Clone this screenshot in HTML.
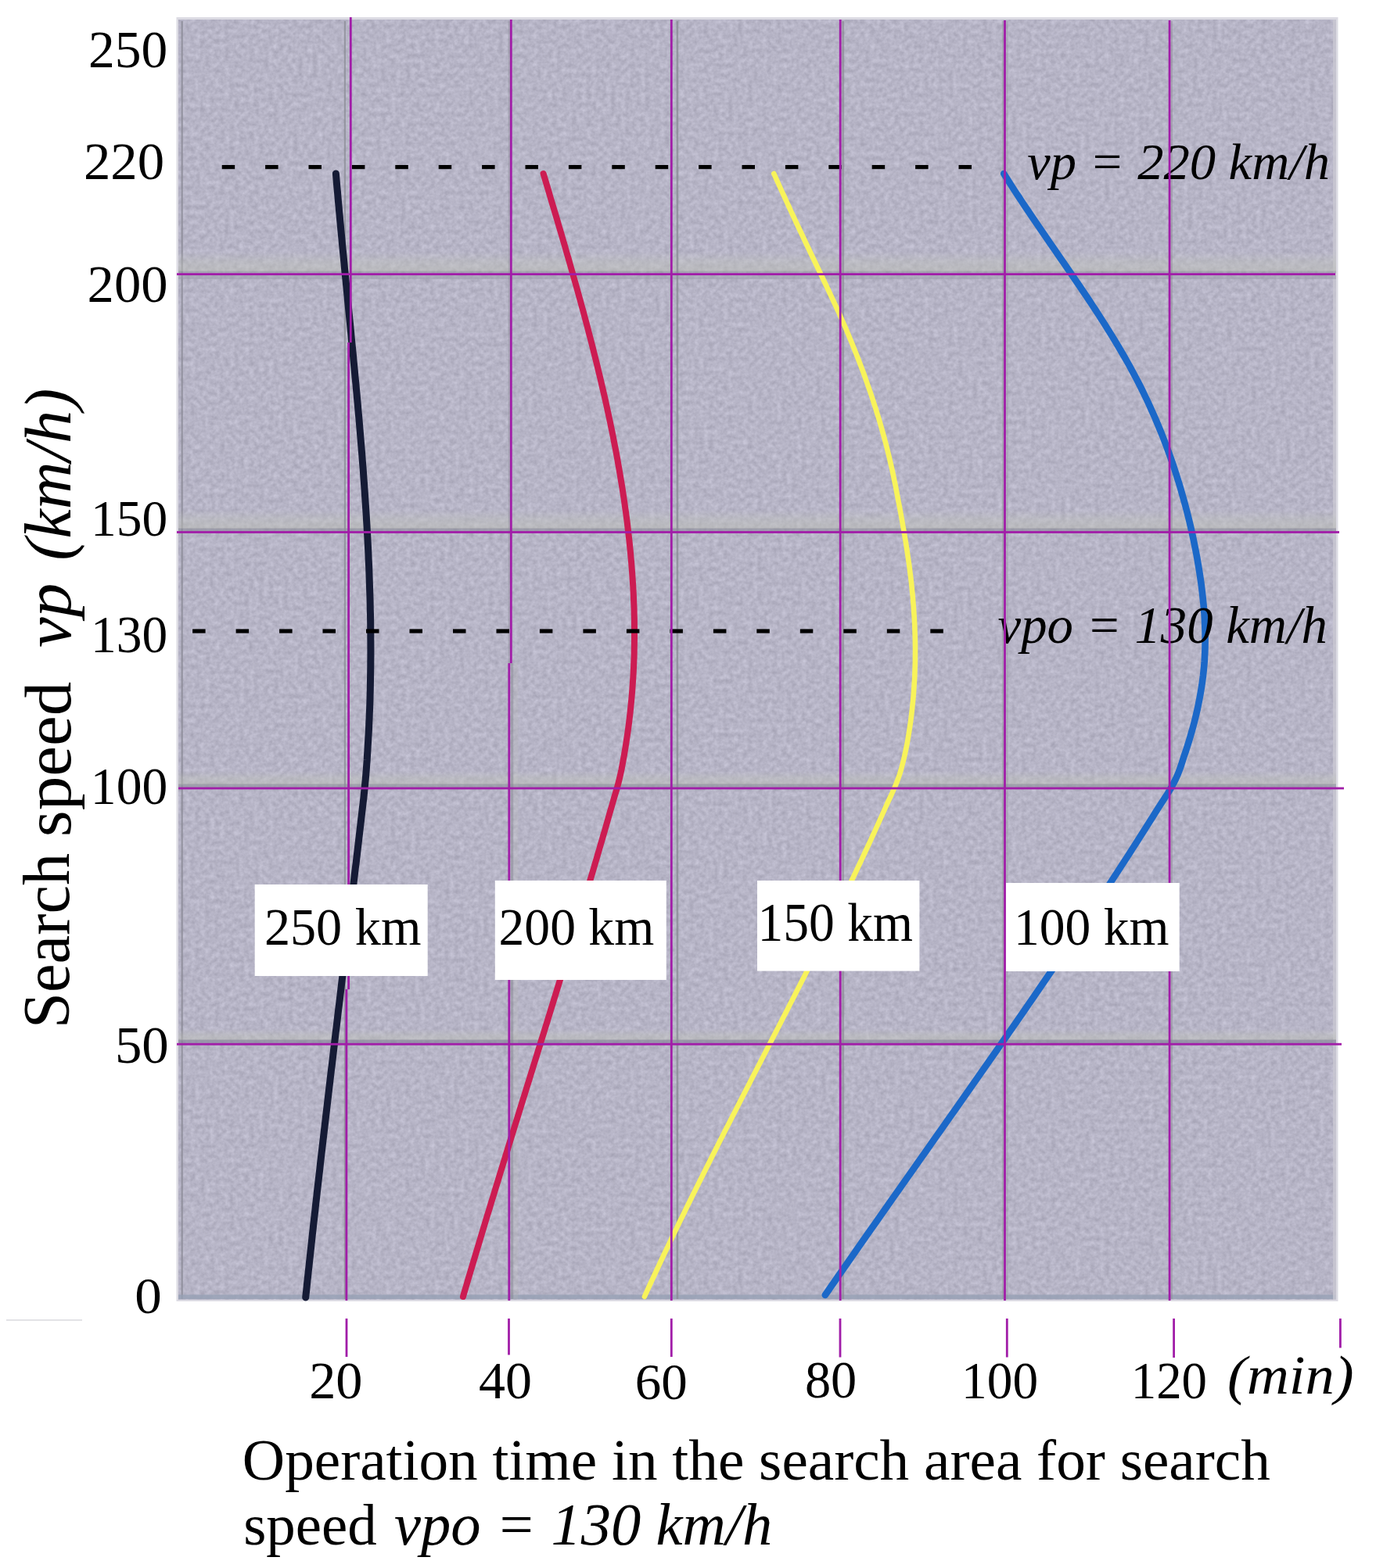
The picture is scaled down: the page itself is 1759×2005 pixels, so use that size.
<!DOCTYPE html>
<html><head><meta charset="utf-8"><title>Search speed chart</title>
<style>html,body{margin:0;padding:0;background:#fff;}svg{display:block;}</style>
</head><body>
<svg width="1759" height="2005" viewBox="0 0 1759 2005">
<defs>
<filter id="noise" x="0" y="0" width="100%" height="100%" color-interpolation-filters="sRGB">
<feTurbulence type="fractalNoise" baseFrequency="0.16" numOctaves="3" seed="11" result="t"/>
<feColorMatrix in="t" type="matrix" values="0.170 0 0 0 0.6310  0.170 0 0 0 0.6230  0.170 0 0 0 0.6930  0 0 0 0 1"/>
</filter>
</defs>
<rect width="1759" height="2005" fill="#fff"/>
<rect x="225.5" y="22" width="1485" height="1642" fill="#dcdbe3"/>
<rect x="228" y="25" width="1480" height="1637" fill="#b3b1c5"/>
<rect x="228" y="25" width="1480" height="1637" filter="url(#noise)"/>
<rect x="231.5" y="27" width="2.4" height="1634" fill="#8d8c98" opacity="0.8"/>
<rect x="228" y="1655.5" width="1480" height="5.5" fill="#96a0b4" opacity="0.8"/>
<rect x="1704" y="25" width="4" height="1637" fill="#c9c8d2" opacity="0.8"/>
<linearGradient id="lb" x1="0" y1="0" x2="0" y2="1"><stop offset="0" stop-color="#c2c4bd" stop-opacity="0"/><stop offset="0.5" stop-color="#c0c3bb" stop-opacity="0.38"/><stop offset="1" stop-color="#bcbeb6" stop-opacity="0.55"/></linearGradient>
<rect x="228" y="322" width="1480" height="25" fill="url(#lb)"/>
<rect x="228" y="652" width="1480" height="24" fill="url(#lb)"/>
<rect x="228" y="986" width="1480" height="18" fill="url(#lb)"/>
<rect x="228" y="1316" width="1480" height="15" fill="url(#lb)"/>
<rect x="228" y="346.5" width="1480" height="3" fill="#8e8e9a" opacity="0.45"/>
<rect x="228" y="352" width="1480" height="5" fill="#9c9aac" opacity="0.5"/>
<rect x="228" y="675.5" width="1480" height="4" fill="#8a8a98" opacity="0.6"/>
<rect x="228" y="1002.5" width="1480" height="4.5" fill="#8d8f9c" opacity="0.6"/>
<rect x="228" y="1329.5" width="1480" height="4.5" fill="#85849a" opacity="0.65"/>
<g fill="#8b8c96">
<rect x="439.8" y="27" width="2.2" height="1634" opacity="0.75"/>
<rect x="652.8" y="848" width="3.4" height="813" opacity="0.55"/>
<rect x="656.4" y="848" width="6" height="813" fill="#bfc1bc" opacity="0.22"/>
<rect x="649.8" y="27" width="2" height="821" opacity="0.45"/>
<rect x="864.6" y="27" width="2.6" height="1634" opacity="0.8"/>
<rect x="1076.3" y="27" width="2.8" height="1634" opacity="0.7"/>
<rect x="1281" y="27" width="2" height="1634" opacity="0.45"/>
<rect x="1286.6" y="27" width="2" height="1634" opacity="0.35"/>
<rect x="1496.8" y="27" width="2.2" height="1634" opacity="0.5"/>
</g>
<g fill="none" stroke-linecap="round" stroke-linejoin="round">
<path d="M429.4,222.0 L429.9,228.0 L430.4,234.0 L430.9,240.0 L431.5,246.0 L432.0,252.0 L432.5,258.0 L433.1,264.0 L433.6,270.0 L434.2,276.0 L434.7,282.0 L435.3,288.0 L435.8,294.0 L436.4,300.0 L437.0,306.0 L437.5,312.0 L438.1,318.0 L438.7,324.0 L439.3,330.0 L439.9,336.0 L440.4,342.0 L441.0,348.0 L441.6,354.0 L442.2,360.0 L442.8,366.0 L443.4,372.0 L444.0,378.0 L444.5,384.0 L445.1,390.0 L445.7,396.0 L446.3,402.0 L446.9,408.0 L447.5,414.0 L448.1,420.0 L448.7,426.0 L449.2,432.0 L449.8,438.0 L450.4,444.0 L451.0,450.0 L451.6,456.0 L452.1,462.0 L452.7,468.0 L453.3,474.0 L453.8,480.0 L454.4,486.0 L455.0,492.0 L455.5,498.0 L456.1,504.0 L456.6,510.0 L457.2,516.0 L457.7,522.0 L458.2,528.0 L458.8,534.0 L459.3,540.0 L459.8,546.0 L460.3,552.0 L460.8,558.0 L461.3,564.0 L461.8,570.0 L462.3,576.0 L462.8,582.0 L463.2,588.0 L463.7,594.0 L464.2,600.0 L464.6,606.0 L465.0,612.0 L465.5,618.0 L465.9,624.0 L466.3,630.0 L466.7,636.0 L467.1,642.0 L467.5,648.0 L467.9,654.0 L468.3,660.0 L468.6,666.0 L469.0,672.0 L469.3,678.0 L469.7,684.0 L470.0,690.0 L470.3,696.0 L470.6,702.0 L470.9,708.0 L471.1,714.0 L471.4,720.0 L471.7,726.0 L471.9,732.0 L472.1,738.0 L472.3,744.0 L472.5,750.0 L472.7,756.0 L472.9,762.0 L473.1,768.0 L473.2,774.0 L473.3,780.0 L473.5,786.0 L473.6,792.0 L473.7,798.0 L473.7,804.0 L473.8,810.0 L473.8,816.0 L473.9,822.0 L473.9,828.0 L473.9,834.0 L473.9,840.0 L473.8,846.0 L473.8,852.0 L473.7,858.0 L473.6,864.0 L473.5,870.0 L473.4,876.0 L473.3,882.0 L473.1,888.0 L473.0,894.0 L472.8,900.0 L472.6,906.0 L472.3,912.0 L472.1,918.0 L471.8,924.0 L471.6,930.0 L471.3,936.0 L470.9,942.0 L470.6,948.0 L470.2,954.0 L469.9,960.0 L469.5,966.0 L469.2,972.0 L468.7,978.0 L468.3,984.0 L467.8,990.0 L467.3,996.0 L466.7,1002.0 L466.1,1008.0 L465.5,1014.0 L464.9,1020.0 L464.2,1026.0 L463.5,1032.0 L462.8,1038.0 L462.1,1044.0 L461.4,1050.0 L460.7,1056.0 L460.0,1062.0 L459.3,1068.0 L458.6,1074.0 L457.9,1080.0 L457.2,1086.0 L456.5,1092.0 L455.8,1098.0 L455.1,1104.0 L454.3,1110.0 L453.6,1116.0 L452.9,1122.0 L452.2,1128.0 L451.5,1134.0 L450.8,1140.0 L450.1,1146.0 L449.4,1152.0 L448.6,1158.0 L447.9,1164.0 L447.2,1170.0 L446.5,1176.0 L445.8,1182.0 L445.1,1188.0 L444.3,1194.0 L443.6,1200.0 L442.9,1206.0 L442.2,1212.0 L441.5,1218.0 L440.7,1224.0 L440.0,1230.0 L439.3,1236.0 L438.6,1242.0 L437.9,1248.0 L437.1,1254.0 L436.4,1260.0 L435.7,1266.0 L435.0,1272.0 L434.3,1278.0 L433.6,1284.0 L432.8,1290.0 L432.1,1296.0 L431.4,1302.0 L430.7,1308.0 L430.0,1314.0 L429.2,1320.0 L428.5,1326.0 L427.8,1332.0 L427.1,1338.0 L426.4,1344.0 L425.7,1350.0 L425.0,1356.0 L424.3,1362.0 L423.5,1368.0 L422.8,1374.0 L422.1,1380.0 L421.4,1386.0 L420.7,1392.0 L420.0,1398.0 L419.3,1404.0 L418.6,1410.0 L417.9,1416.0 L417.2,1422.0 L416.5,1428.0 L415.8,1434.0 L415.1,1440.0 L414.4,1446.0 L413.7,1452.0 L413.0,1458.0 L412.3,1464.0 L411.6,1470.0 L410.9,1476.0 L410.2,1482.0 L409.5,1488.0 L408.9,1494.0 L408.2,1500.0 L407.5,1506.0 L406.8,1512.0 L406.1,1518.0 L405.4,1524.0 L404.8,1530.0 L404.1,1536.0 L403.4,1542.0 L402.8,1548.0 L402.1,1554.0 L401.4,1560.0 L400.7,1566.0 L400.1,1572.0 L399.4,1578.0 L398.8,1584.0 L398.1,1590.0 L397.5,1596.0 L396.8,1602.0 L396.2,1608.0 L395.5,1614.0 L394.9,1620.0 L394.2,1626.0 L393.6,1632.0 L392.9,1638.0 L392.3,1644.0 L391.7,1650.0 L391.0,1656.0 L390.7,1659.0" stroke="#151b35" stroke-width="9"/>
<path d="M694.6,222.0 L696.4,228.0 L698.2,234.0 L700.0,240.0 L701.8,246.0 L703.5,252.0 L705.3,258.0 L707.1,264.0 L708.9,270.0 L710.7,276.0 L712.5,282.0 L714.2,288.0 L716.0,294.0 L717.8,300.0 L719.5,306.0 L721.3,312.0 L723.0,318.0 L724.7,324.0 L726.5,330.0 L728.2,336.0 L729.9,342.0 L731.6,348.0 L733.3,354.0 L735.0,360.0 L736.7,366.0 L738.4,372.0 L740.0,378.0 L741.7,384.0 L743.3,390.0 L745.0,396.0 L746.6,402.0 L748.2,408.0 L749.8,414.0 L751.4,420.0 L752.9,426.0 L754.5,432.0 L756.1,438.0 L757.6,444.0 L759.1,450.0 L760.6,456.0 L762.1,462.0 L763.6,468.0 L765.0,474.0 L766.5,480.0 L767.9,486.0 L769.3,492.0 L770.7,498.0 L772.1,504.0 L773.5,510.0 L774.8,516.0 L776.1,522.0 L777.4,528.0 L778.7,534.0 L780.0,540.0 L781.2,546.0 L782.5,552.0 L783.7,558.0 L784.8,564.0 L786.0,570.0 L787.2,576.0 L788.3,582.0 L789.4,588.0 L790.4,594.0 L791.5,600.0 L792.5,606.0 L793.5,612.0 L794.5,618.0 L795.5,624.0 L796.4,630.0 L797.3,636.0 L798.2,642.0 L799.0,648.0 L799.9,654.0 L800.7,660.0 L801.5,666.0 L802.2,672.0 L802.9,678.0 L803.6,684.0 L804.3,690.0 L804.9,696.0 L805.5,702.0 L806.1,708.0 L806.6,714.0 L807.2,720.0 L807.6,726.0 L808.1,732.0 L808.5,738.0 L808.9,744.0 L809.3,750.0 L809.6,756.0 L809.9,762.0 L810.1,768.0 L810.4,774.0 L810.6,780.0 L810.7,786.0 L810.9,792.0 L810.9,798.0 L811.0,804.0 L811.0,810.0 L811.0,816.0 L810.9,822.0 L810.8,828.0 L810.7,834.0 L810.6,840.0 L810.3,846.0 L810.1,852.0 L809.8,858.0 L809.5,864.0 L809.1,870.0 L808.7,876.0 L808.3,882.0 L807.8,888.0 L807.3,894.0 L806.7,900.0 L806.1,906.0 L805.5,912.0 L804.8,918.0 L804.1,924.0 L803.3,930.0 L802.5,936.0 L801.6,942.0 L800.7,948.0 L799.8,954.0 L798.8,960.0 L797.8,966.0 L796.7,972.0 L795.6,978.0 L794.5,984.0 L793.2,990.0 L791.8,996.0 L790.3,1002.0 L788.7,1008.0 L786.9,1014.0 L785.1,1020.0 L783.4,1026.0 L781.7,1032.0 L779.9,1038.0 L778.2,1044.0 L776.5,1050.0 L774.8,1056.0 L773.1,1062.0 L771.3,1068.0 L769.6,1074.0 L767.8,1080.0 L766.1,1086.0 L764.3,1092.0 L762.6,1098.0 L760.8,1104.0 L759.1,1110.0 L757.3,1116.0 L755.5,1122.0 L753.7,1128.0 L752.0,1134.0 L750.2,1140.0 L748.4,1146.0 L746.6,1152.0 L744.8,1158.0 L743.0,1164.0 L741.2,1170.0 L739.4,1176.0 L737.6,1182.0 L735.8,1188.0 L733.9,1194.0 L732.1,1200.0 L730.3,1206.0 L728.5,1212.0 L726.6,1218.0 L724.8,1224.0 L723.0,1230.0 L721.1,1236.0 L719.3,1242.0 L717.5,1248.0 L715.6,1254.0 L713.8,1260.0 L711.9,1266.0 L710.1,1272.0 L708.2,1278.0 L706.4,1284.0 L704.5,1290.0 L702.7,1296.0 L700.8,1302.0 L699.0,1308.0 L697.1,1314.0 L695.3,1320.0 L693.4,1326.0 L691.5,1332.0 L689.7,1338.0 L687.8,1344.0 L686.0,1350.0 L684.1,1356.0 L682.2,1362.0 L680.4,1368.0 L678.5,1374.0 L676.7,1380.0 L674.8,1386.0 L672.9,1392.0 L671.1,1398.0 L669.2,1404.0 L667.3,1410.0 L665.5,1416.0 L663.6,1422.0 L661.8,1428.0 L659.9,1434.0 L658.0,1440.0 L656.2,1446.0 L654.3,1452.0 L652.5,1458.0 L650.6,1464.0 L648.8,1470.0 L646.9,1476.0 L645.1,1482.0 L643.2,1488.0 L641.4,1494.0 L639.5,1500.0 L637.7,1506.0 L635.9,1512.0 L634.0,1518.0 L632.2,1524.0 L630.4,1530.0 L628.5,1536.0 L626.7,1542.0 L624.9,1548.0 L623.0,1554.0 L621.2,1560.0 L619.4,1566.0 L617.6,1572.0 L615.8,1578.0 L614.0,1584.0 L612.2,1590.0 L610.4,1596.0 L608.6,1602.0 L606.8,1608.0 L605.0,1614.0 L603.2,1620.0 L601.4,1626.0 L599.6,1632.0 L597.8,1638.0 L596.1,1644.0 L594.3,1650.0 L592.5,1656.0 L592.0,1658.0" stroke="#cc1c52" stroke-width="8"/>
<path d="M989.3,222.0 L992.0,228.0 L994.7,234.0 L997.4,240.0 L1000.1,246.0 L1002.9,252.0 L1005.6,258.0 L1008.4,264.0 L1011.1,270.0 L1013.9,276.0 L1016.7,282.0 L1019.5,288.0 L1022.3,294.0 L1025.2,300.0 L1028.0,306.0 L1030.8,312.0 L1033.7,318.0 L1036.5,324.0 L1039.4,330.0 L1042.3,336.0 L1045.1,342.0 L1048.0,348.0 L1050.9,354.0 L1053.7,360.0 L1056.6,366.0 L1059.4,372.0 L1062.2,378.0 L1065.0,384.0 L1067.8,390.0 L1070.6,396.0 L1073.3,402.0 L1075.9,408.0 L1078.6,414.0 L1081.2,420.0 L1083.7,426.0 L1086.2,432.0 L1088.7,438.0 L1091.1,444.0 L1093.5,450.0 L1095.9,456.0 L1098.2,462.0 L1100.5,468.0 L1102.8,474.0 L1105.0,480.0 L1107.1,486.0 L1109.2,492.0 L1111.3,498.0 L1113.4,504.0 L1115.4,510.0 L1117.3,516.0 L1119.3,522.0 L1121.1,528.0 L1123.0,534.0 L1124.8,540.0 L1126.5,546.0 L1128.2,552.0 L1129.9,558.0 L1131.5,564.0 L1133.1,570.0 L1134.6,576.0 L1136.1,582.0 L1137.5,588.0 L1138.9,594.0 L1140.3,600.0 L1141.6,606.0 L1142.8,612.0 L1144.1,618.0 L1145.3,624.0 L1146.4,630.0 L1147.6,636.0 L1148.7,642.0 L1149.9,648.0 L1151.0,654.0 L1152.1,660.0 L1153.2,666.0 L1154.2,672.0 L1155.3,678.0 L1156.3,684.0 L1157.3,690.0 L1158.3,696.0 L1159.2,702.0 L1160.1,708.0 L1161.0,714.0 L1161.9,720.0 L1162.7,726.0 L1163.4,732.0 L1164.2,738.0 L1164.9,744.0 L1165.5,750.0 L1166.1,756.0 L1166.7,762.0 L1167.2,768.0 L1167.7,774.0 L1168.1,780.0 L1168.5,786.0 L1168.9,792.0 L1169.2,798.0 L1169.4,804.0 L1169.6,810.0 L1169.8,816.0 L1169.9,822.0 L1170.0,828.0 L1170.0,834.0 L1169.9,840.0 L1169.9,846.0 L1169.7,852.0 L1169.5,858.0 L1169.3,864.0 L1169.0,870.0 L1168.6,876.0 L1168.2,882.0 L1167.8,888.0 L1167.3,894.0 L1166.7,900.0 L1166.1,906.0 L1165.4,912.0 L1164.7,918.0 L1163.9,924.0 L1163.0,930.0 L1162.1,936.0 L1161.1,942.0 L1160.1,948.0 L1159.0,954.0 L1157.7,960.0 L1156.4,966.0 L1155.0,972.0 L1153.5,978.0 L1151.9,984.0 L1150.1,990.0 L1148.0,996.0 L1145.7,1002.0 L1143.2,1008.0 L1140.5,1014.0 L1137.7,1020.0 L1134.9,1026.0 L1132.2,1032.0 L1129.5,1038.0 L1126.8,1044.0 L1124.1,1050.0 L1121.4,1056.0 L1118.7,1062.0 L1115.9,1068.0 L1113.2,1074.0 L1110.4,1080.0 L1107.6,1086.0 L1104.8,1092.0 L1102.0,1098.0 L1099.2,1104.0 L1096.3,1110.0 L1093.5,1116.0 L1090.6,1122.0 L1087.7,1128.0 L1084.9,1134.0 L1082.0,1140.0 L1079.1,1146.0 L1076.1,1152.0 L1073.2,1158.0 L1070.3,1164.0 L1067.3,1170.0 L1064.4,1176.0 L1061.4,1182.0 L1058.5,1188.0 L1055.5,1194.0 L1052.5,1200.0 L1049.5,1206.0 L1046.5,1212.0 L1043.5,1218.0 L1040.5,1224.0 L1037.5,1230.0 L1034.4,1236.0 L1031.4,1242.0 L1028.4,1248.0 L1025.3,1254.0 L1022.3,1260.0 L1019.2,1266.0 L1016.2,1272.0 L1013.1,1278.0 L1010.0,1284.0 L1007.0,1290.0 L1003.9,1296.0 L1000.8,1302.0 L997.8,1308.0 L994.7,1314.0 L991.6,1320.0 L988.5,1326.0 L985.4,1332.0 L982.3,1338.0 L979.3,1344.0 L976.2,1350.0 L973.1,1356.0 L970.0,1362.0 L966.9,1368.0 L963.8,1374.0 L960.7,1380.0 L957.7,1386.0 L954.6,1392.0 L951.5,1398.0 L948.4,1404.0 L945.3,1410.0 L942.3,1416.0 L939.2,1422.0 L936.1,1428.0 L933.1,1434.0 L930.0,1440.0 L926.9,1446.0 L923.9,1452.0 L920.8,1458.0 L917.8,1464.0 L914.8,1470.0 L911.7,1476.0 L908.7,1482.0 L905.7,1488.0 L902.7,1494.0 L899.7,1500.0 L896.7,1506.0 L893.7,1512.0 L890.7,1518.0 L887.7,1524.0 L884.7,1530.0 L881.8,1536.0 L878.8,1542.0 L875.9,1548.0 L873.0,1554.0 L870.0,1560.0 L867.1,1566.0 L864.2,1572.0 L861.3,1578.0 L858.4,1584.0 L855.6,1590.0 L852.7,1596.0 L849.8,1602.0 L847.0,1608.0 L844.2,1614.0 L841.4,1620.0 L838.6,1626.0 L835.8,1632.0 L833.0,1638.0 L830.2,1644.0 L827.5,1650.0 L824.8,1656.0 L823.9,1658.0" stroke="#f8f35a" stroke-width="6.6"/>
<path d="M1283.2,222.0 L1287.0,228.0 L1290.8,234.0 L1294.6,240.0 L1298.5,246.0 L1302.5,252.0 L1306.4,258.0 L1310.4,264.0 L1314.5,270.0 L1318.5,276.0 L1322.6,282.0 L1326.7,288.0 L1330.8,294.0 L1334.9,300.0 L1339.0,306.0 L1343.1,312.0 L1347.3,318.0 L1351.4,324.0 L1355.5,330.0 L1359.7,336.0 L1363.8,342.0 L1367.9,348.0 L1372.0,354.0 L1376.1,360.0 L1380.2,366.0 L1384.2,372.0 L1388.3,378.0 L1392.3,384.0 L1396.2,390.0 L1400.2,396.0 L1404.1,402.0 L1407.9,408.0 L1411.8,414.0 L1415.5,420.0 L1419.3,426.0 L1423.0,432.0 L1426.6,438.0 L1430.2,444.0 L1433.7,450.0 L1437.2,456.0 L1440.6,462.0 L1444.0,468.0 L1447.2,474.0 L1450.4,480.0 L1453.6,486.0 L1456.7,492.0 L1459.7,498.0 L1462.6,504.0 L1465.5,510.0 L1468.3,516.0 L1471.0,522.0 L1473.7,528.0 L1476.4,534.0 L1478.9,540.0 L1481.4,546.0 L1483.9,552.0 L1486.3,558.0 L1488.6,564.0 L1490.9,570.0 L1493.1,576.0 L1495.3,582.0 L1497.4,588.0 L1499.5,594.0 L1501.5,600.0 L1503.4,606.0 L1505.3,612.0 L1507.2,618.0 L1509.0,624.0 L1510.7,630.0 L1512.4,636.0 L1514.1,642.0 L1515.7,648.0 L1517.3,654.0 L1518.8,660.0 L1520.3,666.0 L1521.7,672.0 L1523.1,678.0 L1524.4,684.0 L1525.7,690.0 L1526.9,696.0 L1528.1,702.0 L1529.3,708.0 L1530.4,714.0 L1531.4,720.0 L1532.4,726.0 L1533.4,732.0 L1534.3,738.0 L1535.2,744.0 L1536.0,750.0 L1536.7,756.0 L1537.4,762.0 L1538.0,768.0 L1538.6,774.0 L1539.1,780.0 L1539.6,786.0 L1539.9,792.0 L1540.2,798.0 L1540.4,804.0 L1540.6,810.0 L1540.6,816.0 L1540.6,822.0 L1540.5,828.0 L1540.3,834.0 L1540.0,840.0 L1539.7,846.0 L1539.2,852.0 L1538.6,858.0 L1538.0,864.0 L1537.2,870.0 L1536.4,876.0 L1535.4,882.0 L1534.4,888.0 L1533.3,894.0 L1532.1,900.0 L1530.9,906.0 L1529.5,912.0 L1528.1,918.0 L1526.6,924.0 L1525.0,930.0 L1523.3,936.0 L1521.6,942.0 L1519.8,948.0 L1517.9,954.0 L1516.0,960.0 L1513.9,966.0 L1512.0,972.0 L1510.1,978.0 L1508.0,984.0 L1505.7,990.0 L1503.0,996.0 L1500.0,1002.0 L1496.7,1008.0 L1493.1,1014.0 L1489.2,1020.0 L1485.3,1026.0 L1481.4,1032.0 L1477.6,1038.0 L1473.9,1044.0 L1470.1,1050.0 L1466.3,1056.0 L1462.5,1062.0 L1458.7,1068.0 L1454.9,1074.0 L1451.1,1080.0 L1447.2,1086.0 L1443.4,1092.0 L1439.5,1098.0 L1435.6,1104.0 L1431.7,1110.0 L1427.8,1116.0 L1423.9,1122.0 L1420.0,1128.0 L1416.1,1134.0 L1412.1,1140.0 L1408.2,1146.0 L1404.2,1152.0 L1400.3,1158.0 L1396.3,1164.0 L1392.3,1170.0 L1388.3,1176.0 L1384.3,1182.0 L1380.3,1188.0 L1376.3,1194.0 L1372.2,1200.0 L1368.2,1206.0 L1364.1,1212.0 L1360.1,1218.0 L1356.0,1224.0 L1352.0,1230.0 L1347.9,1236.0 L1343.8,1242.0 L1339.7,1248.0 L1335.6,1254.0 L1331.5,1260.0 L1327.4,1266.0 L1323.3,1272.0 L1319.2,1278.0 L1315.0,1284.0 L1310.9,1290.0 L1306.8,1296.0 L1302.6,1302.0 L1298.5,1308.0 L1294.3,1314.0 L1290.1,1320.0 L1286.0,1326.0 L1281.8,1332.0 L1277.6,1338.0 L1273.5,1344.0 L1269.3,1350.0 L1265.1,1356.0 L1260.9,1362.0 L1256.7,1368.0 L1252.5,1374.0 L1248.3,1380.0 L1244.1,1386.0 L1239.9,1392.0 L1235.7,1398.0 L1231.5,1404.0 L1227.3,1410.0 L1223.1,1416.0 L1218.9,1422.0 L1214.6,1428.0 L1210.4,1434.0 L1206.2,1440.0 L1202.0,1446.0 L1197.7,1452.0 L1193.5,1458.0 L1189.3,1464.0 L1185.1,1470.0 L1180.9,1476.0 L1176.6,1482.0 L1172.4,1488.0 L1168.2,1494.0 L1164.0,1500.0 L1159.7,1506.0 L1155.5,1512.0 L1151.3,1518.0 L1147.1,1524.0 L1142.8,1530.0 L1138.6,1536.0 L1134.4,1542.0 L1130.2,1548.0 L1126.0,1554.0 L1121.8,1560.0 L1117.6,1566.0 L1113.3,1572.0 L1109.1,1578.0 L1104.9,1584.0 L1100.7,1590.0 L1096.5,1596.0 L1092.4,1602.0 L1088.2,1608.0 L1084.0,1614.0 L1079.8,1620.0 L1075.6,1626.0 L1071.4,1632.0 L1067.3,1638.0 L1063.1,1644.0 L1059.0,1650.0 L1054.8,1656.0" stroke="#1b68c8" stroke-width="8.6"/>
</g>
<g fill="#000">
<rect x="283.7" y="211.0" width="16.5" height="5.2"/>
<rect x="339.1" y="211.0" width="16.5" height="5.2"/>
<rect x="394.5" y="211.0" width="16.5" height="5.2"/>
<rect x="449.9" y="211.0" width="16.5" height="5.2"/>
<rect x="505.3" y="211.0" width="16.5" height="5.2"/>
<rect x="560.7" y="211.0" width="16.5" height="5.2"/>
<rect x="616.1" y="211.0" width="16.5" height="5.2"/>
<rect x="671.5" y="211.0" width="16.5" height="5.2"/>
<rect x="726.9" y="211.0" width="16.5" height="5.2"/>
<rect x="782.3" y="211.0" width="16.5" height="5.2"/>
<rect x="837.7" y="211.0" width="16.5" height="5.2"/>
<rect x="893.1" y="211.0" width="16.5" height="5.2"/>
<rect x="948.5" y="211.0" width="16.5" height="5.2"/>
<rect x="1003.9" y="211.0" width="16.5" height="5.2"/>
<rect x="1059.3" y="211.0" width="16.5" height="5.2"/>
<rect x="1114.7" y="211.0" width="16.5" height="5.2"/>
<rect x="1170.1" y="211.0" width="16.5" height="5.2"/>
<rect x="1225.5" y="211.0" width="16.5" height="5.2"/>
<rect x="246.1" y="804.4" width="16.5" height="5.2"/>
<rect x="301.6" y="804.4" width="16.5" height="5.2"/>
<rect x="357.1" y="804.4" width="16.5" height="5.2"/>
<rect x="412.5" y="804.4" width="16.5" height="5.2"/>
<rect x="468.0" y="804.4" width="16.5" height="5.2"/>
<rect x="523.5" y="804.4" width="16.5" height="5.2"/>
<rect x="579.0" y="804.4" width="16.5" height="5.2"/>
<rect x="634.5" y="804.4" width="16.5" height="5.2"/>
<rect x="689.9" y="804.4" width="16.5" height="5.2"/>
<rect x="745.4" y="804.4" width="16.5" height="5.2"/>
<rect x="800.9" y="804.4" width="16.5" height="5.2"/>
<rect x="856.4" y="804.4" width="16.5" height="5.2"/>
<rect x="911.9" y="804.4" width="16.5" height="5.2"/>
<rect x="967.3" y="804.4" width="16.5" height="5.2"/>
<rect x="1022.8" y="804.4" width="16.5" height="5.2"/>
<rect x="1078.3" y="804.4" width="16.5" height="5.2"/>
<rect x="1133.8" y="804.4" width="16.5" height="5.2"/>
<rect x="1189.3" y="804.4" width="16.5" height="5.2"/>
</g>
<g fill="#000">
<text transform="translate(1313.19,228.70) scale(1.0084,1.0073)" font-size="66" style="font-style:italic;font-family:'Liberation Serif','Times New Roman',serif">vp = 220 km/h</text>
<text transform="translate(1275.59,822.19) scale(1.0116,1.0213)" font-size="66" style="font-style:italic;font-family:'Liberation Serif','Times New Roman',serif">vpo = 130 km/h</text>
</g>
<g fill="#a11da8">
<rect x="226" y="349.2" width="1481" height="2.8"/>
<rect x="226" y="679.1" width="1486" height="2.8"/>
<rect x="228" y="1006.6" width="1490" height="2.8"/>
<rect x="226" y="1333.8" width="1489" height="2.8"/>
<rect x="446.9" y="22" width="2.8" height="416"/>
<rect x="444.2" y="438" width="2.8" height="827"/>
<rect x="441.5" y="1265" width="2.8" height="398"/>
<rect x="651.9" y="25" width="2.8" height="823"/>
<rect x="649.4" y="848" width="2.8" height="815"/>
<rect x="856.9" y="25" width="2.8" height="1638"/>
<rect x="1072.8" y="25" width="2.8" height="1638"/>
<rect x="1283.1" y="26" width="2.8" height="1637"/>
<rect x="1493.7" y="26" width="2.8" height="1637"/>
<rect x="441.6" y="1686" width="2.8" height="49.0"/>
<rect x="649.1" y="1686" width="2.8" height="46.5"/>
<rect x="856.9" y="1686" width="2.8" height="49.0"/>
<rect x="1072.6" y="1686" width="2.8" height="49.5"/>
<rect x="1285.9" y="1686" width="2.8" height="49.5"/>
<rect x="1499.2" y="1686" width="2.8" height="50.0"/>
<rect x="1712.0" y="1686" width="2.8" height="37.5"/>
</g>
<g fill="#fff">
<rect x="325.7" y="1131" width="221" height="117"/>
<rect x="632.8" y="1126" width="219" height="127"/>
<rect x="968" y="1126" width="207.4" height="115.6"/>
<rect x="1286" y="1129" width="221.7" height="113"/>
</g>
<g fill="#000">
<text transform="translate(113.03,85.62) scale(1.0551,1.0526)" font-size="64" style="font-family:'Liberation Serif','Times New Roman',serif">250</text>
<text transform="translate(106.98,229.30) scale(1.0748,1.0526)" font-size="64" style="font-family:'Liberation Serif','Times New Roman',serif">220</text>
<text transform="translate(111.58,385.72) scale(1.0727,1.0633)" font-size="64" style="font-family:'Liberation Serif','Times New Roman',serif">200</text>
<text transform="translate(116.05,684.63) scale(1.0229,1.0337)" font-size="64" style="font-family:'Liberation Serif','Times New Roman',serif">150</text>
<text transform="translate(116.05,833.80) scale(1.0229,1.0526)" font-size="64" style="font-family:'Liberation Serif','Times New Roman',serif">130</text>
<text transform="translate(115.84,1028.46) scale(1.0251,1.0633)" font-size="64" style="font-family:'Liberation Serif','Times New Roman',serif">100</text>
<text transform="translate(146.89,1359.21) scale(1.0761,1.0577)" font-size="64" style="font-family:'Liberation Serif','Times New Roman',serif">50</text>
<text transform="translate(172.22,1679.00) scale(1.0804,1.0238)" font-size="64" style="font-family:'Liberation Serif','Times New Roman',serif">0</text>
<text transform="translate(395.18,1788.35) scale(1.0683,1.0544)" font-size="64" style="font-family:'Liberation Serif','Times New Roman',serif">20</text>
<text transform="translate(611.92,1788.35) scale(1.0627,1.0544)" font-size="64" style="font-family:'Liberation Serif','Times New Roman',serif">40</text>
<text transform="translate(811.84,1788.71) scale(1.0479,1.0356)" font-size="64" style="font-family:'Liberation Serif','Times New Roman',serif">60</text>
<text transform="translate(1028.91,1787.28) scale(1.0372,1.0526)" font-size="64" style="font-family:'Liberation Serif','Times New Roman',serif">80</text>
<text transform="translate(1229.06,1788.10) scale(1.0209,1.0668)" font-size="64" style="font-family:'Liberation Serif','Times New Roman',serif">100</text>
<text transform="translate(1445.71,1788.10) scale(1.0139,1.0668)" font-size="64" style="font-family:'Liberation Serif','Times New Roman',serif">120</text>
<text transform="translate(1569.09,1781.55) scale(1.0358,0.9699)" font-size="72" style="font-style:italic;font-family:'Liberation Serif','Times New Roman',serif">(min)</text>
<text transform="translate(337.90,1208.47) scale(1.0348,1.0682)" font-size="64" style="font-family:'Liberation Serif','Times New Roman',serif">250 km</text>
<text transform="translate(637.52,1208.47) scale(1.0253,1.0682)" font-size="64" style="font-family:'Liberation Serif','Times New Roman',serif">200 km</text>
<text transform="translate(968.45,1203.20) scale(1.0246,1.0782)" font-size="64" style="font-family:'Liberation Serif','Times New Roman',serif">150 km</text>
<text transform="translate(1296.05,1208.49) scale(1.0246,1.0426)" font-size="64" style="font-family:'Liberation Serif','Times New Roman',serif">100 km</text>
<text transform="translate(309.79,1891.95) scale(1.0034,1.0002)" font-size="75" style="font-family:'Liberation Serif','Times New Roman',serif">Operation time in the search area for search</text>
<text transform="translate(311.20,1975.00) scale(0.9988,0.9988)" font-size="75" style="font-family:'Liberation Serif','Times New Roman',serif">speed</text>
<text transform="translate(503.98,1975.00) scale(1.0213,1.0213)" font-size="75" style="font-style:italic;font-family:'Liberation Serif','Times New Roman',serif">vpo = 130 km/h</text>
<text transform="translate(88.30,1314.89) rotate(-90) scale(0.9810,1.0123)" font-size="84" style="font-family:'Liberation Serif','Times New Roman',serif">Search</text>
<text transform="translate(89.50,1070.16) rotate(-90) scale(1.0377,1.0000)" font-size="84" style="font-family:'Liberation Serif','Times New Roman',serif">speed</text>
<text transform="translate(89.50,828.03) rotate(-90) scale(1.0260,1.0000)" font-size="85" style="font-style:italic;font-family:'Liberation Serif','Times New Roman',serif">vp</text>
<text transform="translate(89.50,716.78) rotate(-90) scale(0.9926,1.0000)" font-size="85" style="font-style:italic;font-family:'Liberation Serif','Times New Roman',serif">(km/h)</text>
</g>
<rect x="8" y="1687" width="97" height="2" fill="#e2e2e6"/>
</svg>
</body></html>
